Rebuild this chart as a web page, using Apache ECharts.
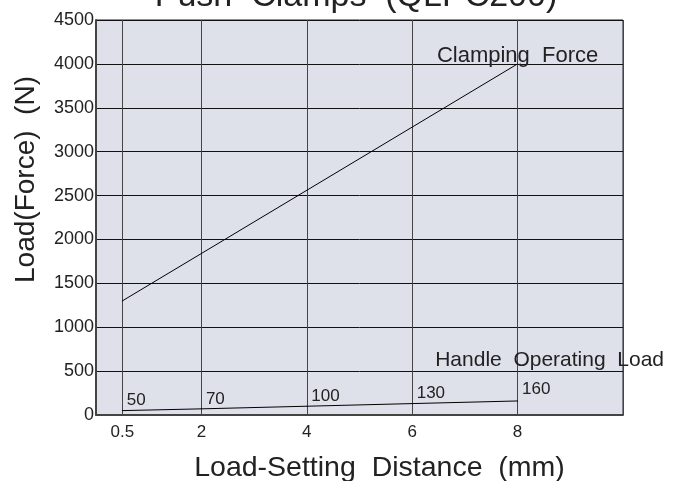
<!DOCTYPE html>
<html>
<head>
<meta charset="utf-8">
<script src="https://cdn.jsdelivr.net/npm/echarts@6/dist/echarts.min.js"></script>
<style>
html,body{margin:0;padding:0;background:#fff;}
#chart{width:676px;height:481px;}
</style>
</head>
<body>
<div id="chart"></div>
<script>
// ---- data ----
const titleText = 'Push  Clamps  (QLPC200)';
const xAxisName = 'Load-Setting  Distance  (mm)';
const yAxisName = 'Load(Force)  (N)';
const xTickLabels = [0.5, 2, 4, 6, 8];
const xGridValues = [0.5, 2, 4, 6, 8, 10];
const clampX = [0.5, 8];
const clampForce = [1300, 4000];
const clampName = 'Clamping  Force';
const handleX = [0.5, 2, 4, 6, 8];
const handleLoad = [50, 70, 100, 130, 160];
const handleName = 'Handle  Operating  Load';

const FONT = 'Liberation Sans';
const TXT = '#222';

const clampData = clampX.map((x, i) => ({
  value: [x, clampForce[i]],
  label: i === clampX.length - 1 ? {
    show: true, formatter: clampName, position: [0.5, 4],
    align: 'center', verticalAlign: 'bottom',
    fontSize: 22, fontFamily: FONT, color: TXT
  } : { show: false }
}));
const handleData = handleX.map((x, i) => ({
  value: [x, handleLoad[i]],
  label: i === handleX.length - 1 ? { position: [5, -3] } : {}
}));

const chart = echarts.init(document.getElementById('chart'), null, { renderer: 'canvas' });
chart.setOption({
  animation: false,
  backgroundColor: '#fff',
  title: {
    text: titleText,
    left: 351, top: -25, textAlign: 'center',
    textStyle: { fontFamily: FONT, fontSize: 34, fontWeight: 'normal', color: TXT }
  },
  grid: {
    left: 96, right: 53, top: 20, bottom: 66,
    containLabel: false, outerBoundsMode: 'none',
    show: true, backgroundColor: '#dee0ea', borderColor: '#222', borderWidth: 1
  },
  xAxis: {
    type: 'value', min: 0, max: 10,
    name: xAxisName, nameLocation: 'middle', nameGap: 39,
    nameTextStyle: { fontFamily: FONT, fontSize: 28.5, color: TXT, padding: [0, 0, 0, 40] },
    axisLine: { show: true, lineStyle: { color: '#444', width: 2 } },
    axisTick: { show: false, customValues: xGridValues },
    axisLabel: { customValues: xTickLabels, fontFamily: FONT, fontSize: 17, color: TXT, margin: 9,
      formatter: v => String(v) },
    splitLine: { show: true, lineStyle: { color: '#444', width: 1 } }
  },
  yAxis: {
    type: 'value', min: 0, max: 4500, interval: 500,
    name: yAxisName, nameLocation: 'middle', nameGap: 56,
    nameTextStyle: { fontFamily: FONT, fontSize: 28, color: TXT, padding: [0, 0, 0, 76] },
    axisLine: { show: true, lineStyle: { color: '#444', width: 2 } },
    axisTick: { show: false },
    axisLabel: { fontFamily: FONT, fontSize: 18, color: TXT, margin: 2, formatter: v => String(v) },
    splitLine: { show: true, lineStyle: { color: '#111', width: 1 } }
  },
  series: [
    {
      name: clampName, type: 'line', data: clampData,
      symbol: 'circle', symbolSize: 1, showSymbol: true,
      itemStyle: { color: '#000' },
      lineStyle: { color: '#000', width: 1 },
      z: 5
    },
    {
      name: handleName, type: 'line', data: handleData,
      symbol: 'circle', symbolSize: 1, showSymbol: true,
      itemStyle: { color: '#000' },
      lineStyle: { color: '#000', width: 1 },
      label: {
        show: true, position: [5, -1], align: 'left', verticalAlign: 'bottom',
        fontFamily: FONT, fontSize: 17, color: TXT,
        formatter: p => String(p.value[1])
      },
      markPoint: {
        symbol: 'circle', symbolSize: 0,
        data: [{
          coord: [handleX[handleX.length - 1], handleLoad[handleLoad.length - 1]],
          value: handleName,
          label: {
            show: true, formatter: handleName, position: [32, -30],
            align: 'center', verticalAlign: 'bottom',
            fontFamily: FONT, fontSize: 21, color: TXT
          }
        }]
      },
      z: 5
    }
  ]
});
</script>
</body>
</html>
